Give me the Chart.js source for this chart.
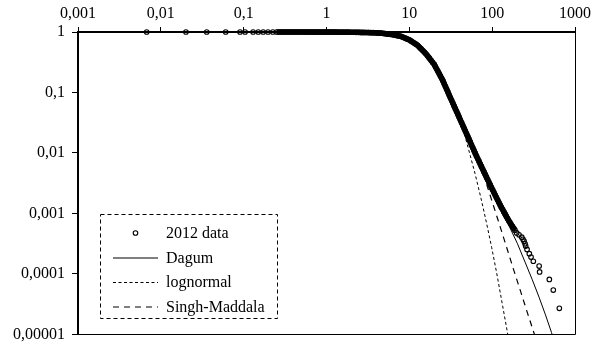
<!DOCTYPE html>
<html>
<head>
<meta charset="utf-8">
<script src="https://cdn.jsdelivr.net/npm/chart.js@4/dist/chart.umd.min.js"></script>
<style>
  html, body { margin: 0; padding: 0; background: #fff; }
  #wrap { width: 595px; height: 351px; }
</style>
</head>
<body>
<div id="wrap"><canvas id="c" width="595" height="351"></canvas></div>
<script>
// Axis ticks (decades) and their labels, comma as decimal separator
const xTickValues = [0.001, 0.01, 0.1, 1, 10, 100, 1000];
const xTickLabels = ['0,001', '0,01', '0,1', '1', '10', '100', '1000'];
const yTickValues = [0.00001, 0.0001, 0.001, 0.01, 0.1, 1];
const yTickLabels = ['0,00001', '0,0001', '0,001', '0,01', '0,1', '1'];

// Empirical complementary CDF, 2012: [x, share above x]
const observed2012 = [
  [0.00675, 1], [0.0201, 1], [0.0358, 1], [0.0607, 1], [0.0904, 1], [0.104, 1],
  [0.130, 0.99985], [0.150, 0.99982], [0.172, 0.99978], [0.197, 0.99975], [0.225, 0.99971],
  [0.250, 0.99968], [0.268, 0.99965], [0.287, 0.99962], [0.307, 0.99958], [0.329, 0.99955],
  [0.353, 0.9995], [0.378, 0.99946], [0.405, 0.9994], [0.434, 0.99935], [0.465, 0.9993],
  [0.498, 0.9992], [0.534, 0.9991], [0.572, 0.999], [0.613, 0.9989], [0.657, 0.9987],
  [0.704, 0.9986], [0.754, 0.9984], [0.808, 0.9982], [0.866, 0.998], [0.928, 0.9977],
  [0.994, 0.9974], [1.065, 0.997], [1.141, 0.9966], [1.223, 0.9962], [1.310, 0.9957],
  [1.404, 0.9952], [1.504, 0.9946], [1.612, 0.9939], [1.727, 0.9931], [1.850, 0.9922],
  [1.983, 0.9912], [2.124, 0.99], [2.276, 0.9887], [2.439, 0.9872], [2.613, 0.9855],
  [2.800, 0.9836], [3.000, 0.9814], [3.215, 0.979], [3.444, 0.9763], [3.691, 0.9733],
  [3.955, 0.97], [4.169, 0.965], [4.365, 0.960], [4.571, 0.955], [4.786, 0.949],
  [5.012, 0.944], [5.248, 0.936], [5.495, 0.929], [5.754, 0.921], [6.026, 0.913],
  [6.310, 0.906], [6.607, 0.894], [6.918, 0.882], [7.244, 0.870], [7.586, 0.859],
  [7.943, 0.847], [8.318, 0.825], [8.710, 0.803], [9.120, 0.782], [9.550, 0.761],
  [10.00, 0.741], [10.47, 0.711], [10.96, 0.682], [11.48, 0.655], [12.02, 0.628],
  [12.59, 0.603], [13.18, 0.565], [13.80, 0.530], [14.45, 0.497], [15.14, 0.466],
  [15.85, 0.437], [16.60, 0.403], [17.38, 0.372], [18.20, 0.343], [19.05, 0.316],
  [19.95, 0.292], [20.65, 0.267], [21.38, 0.2446], [22.13, 0.2240], [22.91, 0.2051],
  [23.71, 0.1878], [24.55, 0.1720], [25.41, 0.1565], [26.30, 0.1406], [27.23, 0.1263],
  [28.18, 0.1135], [29.17, 0.1020], [30.20, 0.0916], [31.26, 0.0823], [32.36, 0.0741],
  [33.50, 0.0667], [34.67, 0.0600], [35.89, 0.0540], [37.15, 0.0486], [38.46, 0.0437],
  [39.81, 0.0394], [41.21, 0.0354], [42.66, 0.0319], [44.16, 0.0287], [45.71, 0.0258],
  [47.32, 0.0232], [48.98, 0.0209], [50.70, 0.0188], [52.48, 0.0169], [54.33, 0.0152],
  [56.23, 0.0136], [58.21, 0.01226], [60.26, 0.01101], [62.37, 0.0099], [64.57, 0.00893],
  [66.83, 0.00808], [69.18, 0.00731], [71.61, 0.00661], [74.13, 0.00598], [76.74, 0.00541],
  [79.43, 0.0049], [82.22, 0.00444], [85.11, 0.00402], [88.10, 0.00364], [91.20, 0.0033],
  [94.41, 0.00299], [97.72, 0.00271], [101.2, 0.00246], [104.7, 0.00224], [108.4, 0.00203],
  [112.2, 0.00185], [116.1, 0.00168], [120.2, 0.00153], [124.5, 0.00139], [128.8, 0.00127],
  [133.4, 0.00117], [138.0, 0.00107], [142.9, 0.000983], [147.9, 0.000902], [153.1, 0.000827],
  [158.5, 0.000759], [164.1, 0.000706], [169.8, 0.000656], [175.8, 0.00061], [182.0, 0.000568],
  [188.4, 0.000528],
  [197.8, 0.000477], [211, 0.000443], [227.5, 0.000405], [235.7, 0.000373], [242.5, 0.000348],
  [249.5, 0.000315], [254, 0.000289], [263.6, 0.000254], [281, 0.000216], [294.6, 0.00019],
  [314, 0.000162], [369, 0.000135], [374, 0.000108], [490, 0.000081], [547, 0.000054],
  [647, 0.000027]
];

// Fitted distributions: [x, share above x]
const dagumFit = [
  [0.5, 0.9993], [1, 0.9974], [2, 0.991], [3, 0.9814], [4, 0.97], [5, 0.944], [6.31, 0.906],
  [7.94, 0.847], [10, 0.741], [12.6, 0.603], [15.85, 0.437], [19.95, 0.292], [25.4, 0.1565],
  [30.2, 0.0916], [39.8, 0.0394], [50.7, 0.0188], [62.4, 0.0099], [79.4, 0.0049],
  [101, 0.0024], [124.5, 0.00128], [164, 0.00058], [202.3, 0.000315], [249.5, 0.000157],
  [305.5, 0.0000798], [368, 0.0000413], [440.6, 0.000021], [521, 0.0000107], [558, 0.0000079]
];
const lognormalFit = [
  [0.5, 0.9993], [1, 0.9974], [2, 0.991], [3, 0.9814], [4, 0.97], [5, 0.944], [6.31, 0.906],
  [7.94, 0.847], [10, 0.741], [12.6, 0.603], [15.85, 0.437], [19.95, 0.292], [25.4, 0.1565],
  [30.2, 0.0916], [35.6, 0.056], [44.5, 0.0248], [52.5, 0.0108], [62.1, 0.00456],
  [73.3, 0.00178], [85.5, 0.000695], [98.8, 0.000271], [113, 0.000106], [128, 0.0000413],
  [145, 0.0000161], [160, 0.0000076]
];
const singhMaddalaFit = [
  [0.5, 0.9993], [1, 0.9974], [2, 0.991], [3, 0.9814], [4, 0.97], [5, 0.944], [6.31, 0.906],
  [7.94, 0.847], [10, 0.741], [12.6, 0.603], [15.85, 0.437], [19.95, 0.292], [25.4, 0.1565],
  [30.2, 0.0916], [39.8, 0.0394], [50.7, 0.0188], [62.4, 0.0099], [71.3, 0.0066],
  [80, 0.0041], [92.9, 0.00215], [117.7, 0.000778], [150, 0.000271], [181, 0.000119],
  [222, 0.0000499], [269, 0.0000218], [324.6, 0.0000099], [343, 0.0000076]
];

// Range where the observations are dense enough to merge into a solid band
const bandFrom = 0.25;
const bandTo = 190;

const toXY = arr => arr.map(([x, y]) => ({ x, y }));
const serif = '"Liberation Serif", "Times New Roman", serif';

// Outer frame: right and bottom edges of the plot area
const framePlugin = {
  id: 'frame',
  afterDatasetsDraw(chart) {
    const { ctx, chartArea: a } = chart;
    ctx.save();
    ctx.strokeStyle = '#000';
    ctx.lineWidth = 1;
    ctx.beginPath();
    ctx.moveTo(a.left, Math.round(a.bottom) + 0.5);
    ctx.lineTo(Math.round(a.right) + 0.5, Math.round(a.bottom) + 0.5);
    ctx.lineTo(Math.round(a.right) + 0.5, a.top);
    ctx.stroke();
    ctx.restore();
  }
};

// Legend inside the plot, framed with a dashed border
const insideLegend = {
  id: 'insideLegend',
  afterDraw(chart) {
    const { ctx } = chart;
    const box = { left: 100.5, top: 214.5, width: 177, height: 104 };
    const rows = [233, 257.5, 282, 306.5];
    const sampleL = 113, sampleR = 158, textX = 166;
    ctx.save();
    ctx.strokeStyle = '#000';
    ctx.lineWidth = 1;
    ctx.setLineDash([4, 3]);
    ctx.strokeRect(box.left, box.top, box.width, box.height);
    ctx.font = '16px ' + serif;
    ctx.fillStyle = '#000';
    ctx.textBaseline = 'middle';
    chart.data.datasets.forEach((ds, i) => {
      const y = rows[i];
      ctx.setLineDash([]);
      if (ds.legendMarker) {
        ctx.lineWidth = ds.pointBorderWidth;
        ctx.beginPath();
        ctx.arc((sampleL + sampleR) / 2, y, ds.pointRadius, 0, Math.PI * 2);
        ctx.stroke();
      } else {
        ctx.lineWidth = ds.borderWidth;
        ctx.setLineDash(ds.borderDash || []);
        ctx.beginPath();
        ctx.moveTo(sampleL, y + 0.5);
        ctx.lineTo(sampleR, y + 0.5);
        ctx.stroke();
      }
      ctx.setLineDash([]);
      ctx.fillText(ds.label, textX, y + 1);
    });
    ctx.restore();
  }
};

new Chart(document.getElementById('c'), {
  type: 'scatter',
  data: {
    datasets: [
      {
        label: '2012 data',
        data: toXY(observed2012),
        legendMarker: true,
        showLine: true,
        borderColor: '#000',
        borderWidth: 5.5,
        segment: {
          borderColor: ctx => {
            const a = observed2012[ctx.p0DataIndex][0];
            const b = observed2012[ctx.p1DataIndex][0];
            return (a >= bandFrom && b <= bandTo) ? '#000' : 'rgba(0,0,0,0)';
          }
        },
        pointRadius: 2.3,
        pointBorderWidth: 1.1,
        pointBorderColor: '#000',
        pointBackgroundColor: 'rgba(0,0,0,0)',
        clip: false,
        order: 0
      },
      {
        label: 'Dagum',
        data: toXY(dagumFit),
        showLine: true,
        borderColor: '#000',
        borderWidth: 1,
        pointRadius: 0,
        order: 1
      },
      {
        label: 'lognormal',
        data: toXY(lognormalFit),
        showLine: true,
        borderColor: '#000',
        borderWidth: 1,
        borderDash: [3, 2.5],
        pointRadius: 0,
        order: 2
      },
      {
        label: 'Singh-Maddala',
        data: toXY(singhMaddalaFit),
        showLine: true,
        borderColor: '#000',
        borderWidth: 1.2,
        borderDash: [6, 5],
        pointRadius: 0,
        order: 3
      }
    ]
  },
  options: {
    responsive: false,
    animation: false,
    devicePixelRatio: 1,
    layout: { padding: { left: 0, right: 20, top: 0, bottom: 14 } },
    plugins: { legend: { display: false }, tooltip: { enabled: false } },
    scales: {
      x: {
        type: 'logarithmic',
        position: 'top',
        min: 0.001,
        max: 1000,
        afterBuildTicks: s => { s.ticks = xTickValues.map(v => ({ value: v })); },
        afterFit: s => { s.height = 32; },
        ticks: {
          autoSkip: false,
          maxRotation: 0,
          color: '#000',
          padding: 4,
          font: { family: serif, size: 16 },
          callback: (v, i) => xTickLabels[i]
        },
        grid: { drawOnChartArea: false, drawTicks: true, tickLength: 5, color: '#000', lineWidth: 1 },
        border: { display: true, color: '#000', width: 2 }
      },
      y: {
        type: 'logarithmic',
        position: 'left',
        min: 0.00001,
        max: 1,
        afterBuildTicks: s => { s.ticks = yTickValues.map(v => ({ value: v })); },
        afterFit: s => { s.width = 78; },
        ticks: {
          autoSkip: false,
          color: '#000',
          padding: 7,
          font: { family: serif, size: 16 },
          callback: (v, i) => yTickLabels[i]
        },
        grid: { drawOnChartArea: false, drawTicks: true, tickLength: 6, color: '#000', lineWidth: 1 },
        border: { display: true, color: '#000', width: 2 }
      }
    }
  },
  plugins: [framePlugin, insideLegend]
});
</script>
</body>
</html>
